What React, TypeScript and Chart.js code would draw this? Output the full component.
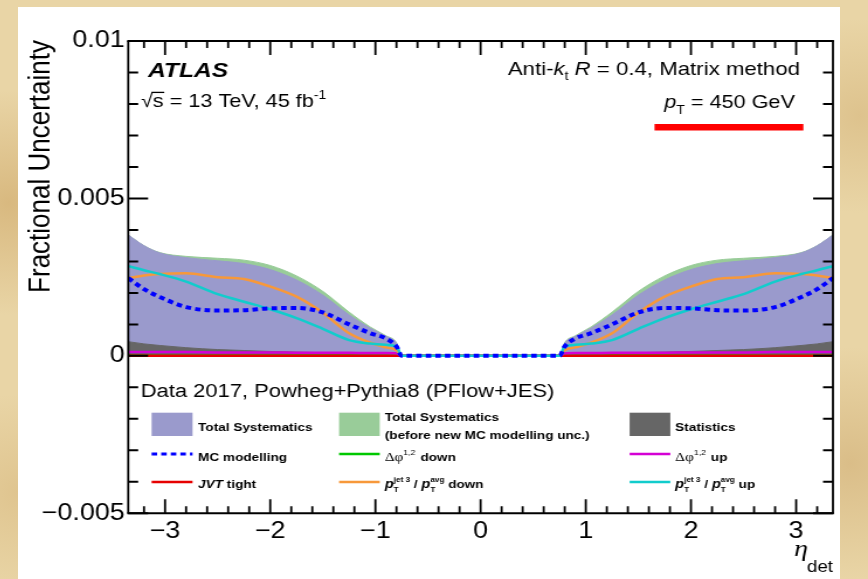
import React, { useEffect, useRef } from "react";
import { Chart, registerables } from "chart.js";

Chart.register(...registerables);

const FONT = "'Liberation Sans', Arial, Helvetica, sans-serif";
const SERIF = "'Liberation Serif', 'DejaVu Serif', serif";

// ---------------- data ----------------
const eta = [-3.35, -3.2, -3.05, -2.8, -2.5, -2.25, -2.0, -1.75, -1.5, -1.25, -1.05, -0.9, -0.8, -0.75, 0, 0.75, 0.8, 0.9, 1.05, 1.25, 1.5, 1.75, 2.0, 2.25, 2.5, 2.8, 3.05, 3.2, 3.35];

const totalSystBeforeMC = [0.00384, 0.0035, 0.00328, 0.00316, 0.0031, 0.00304, 0.00287, 0.00254, 0.00205, 0.00139, 0.00092, 0.00064, 0.00042, 0, 0, 0, 0.00042, 0.00064, 0.00092, 0.00139, 0.00205, 0.00254, 0.00287, 0.00304, 0.0031, 0.00316, 0.00328, 0.0035, 0.00384];
const totalSyst = [0.00384, 0.0035, 0.00327, 0.00312, 0.00302, 0.00293, 0.00274, 0.00241, 0.00193, 0.0013, 0.00088, 0.00062, 0.0004, 0, 0, 0, 0.0004, 0.00062, 0.00088, 0.0013, 0.00193, 0.00241, 0.00274, 0.00293, 0.00302, 0.00312, 0.00327, 0.0035, 0.00384];
const statistics = [0.00045, 0.00038, 0.00033, 0.00026, 0.0002, 0.00017, 0.00014, 0.00012, 0.0001, 0.00008, 0.00006, 0.00005, 0.00004, 0, 0, 0, 0.00004, 0.00005, 0.00006, 0.00008, 0.0001, 0.00012, 0.00014, 0.00017, 0.0002, 0.00026, 0.00033, 0.00038, 0.00045];
const mcModelling = [0.00247, 0.00212, 0.00187, 0.00155, 0.00144, 0.00145, 0.00151, 0.00152, 0.00138, 0.001, 0.00072, 0.00055, 0.0003, 0, 0, 0, 0.0003, 0.00055, 0.00072, 0.001, 0.00138, 0.00152, 0.00151, 0.00145, 0.00144, 0.00155, 0.00187, 0.00212, 0.00247];
const jvtTight = [0, 0, 0, 0, 0, 0, 0, 0, 0, 0, 0, 0, 0, 0, 0, 0, 0, 0, 0, 0, 0, 0, 0, 0, 0, 0, 0, 0, 0];
const dPhiDown = [0, 0, 0, 0, 0, 0, 0, 0, 0, 0, 0, 0, 0, 0, 0, 0, 0, 0, 0, 0, 0, 0, 0, 0, 0, 0, 0, 0, 0];
const dPhiUp = [0.00012, 0.00012, 0.00012, 0.00012, 0.00011, 0.00011, 0.00011, 0.0001, 0.0001, 0.0001, 0.00009, 0.00009, 0.00008, 0, 0, 0, 0.00008, 0.00009, 0.00009, 0.0001, 0.0001, 0.0001, 0.00011, 0.00011, 0.00011, 0.00012, 0.00012, 0.00012, 0.00012];
const ptRatioDown = [0.00247, 0.00255, 0.0026, 0.00262, 0.0025, 0.00244, 0.0022, 0.00188, 0.00137, 0.00072, 0.00042, 0.00027, 0.00018, 0, 0, 0, 0.00018, 0.00027, 0.00042, 0.00072, 0.00137, 0.00188, 0.0022, 0.00244, 0.0025, 0.00262, 0.0026, 0.00255, 0.00247];
const ptRatioUp = [0.00285, 0.00272, 0.0026, 0.00236, 0.00196, 0.00172, 0.00148, 0.0012, 0.00086, 0.0005, 0.00039, 0.00035, 0.0003, 0, 0, 0, 0.0003, 0.00035, 0.00039, 0.0005, 0.00086, 0.0012, 0.00148, 0.00172, 0.00196, 0.00236, 0.0026, 0.00272, 0.00285];

const xTickValues = [-3, -2, -1, 0, 1, 2, 3];
const xTickLabels = ["\u22123", "\u22122", "\u22121", "0", "1", "2", "3"];
const yTickValues = [-0.005, 0, 0.005, 0.01];
const yTickLabels = ["\u22120.005", "0", "0.005", "0.01"];

// ---------------- styles ----------------
const C_PURPLE = "#9a9acc";
const C_GREENFILL = "#99cc99";
const C_STAT = "#666666";
const C_BLUE = "#0000ff";
const C_RED = "#e60000";
const C_GREEN = "#00c800";
const C_ORANGE = "#f7983a";
const C_MAGENTA = "#d400d4";
const C_CYAN = "#11cccc";
const MC_DASH = [4.7, 3.5];

const CANVAS_W = 703;
const CANVAS_H = 572;
const DISPLAY_W = 822;

const pts = (vals: number[]) => eta.map((x, i) => ({ x, y: vals[i] }));

const fillDs = (label: string, vals: number[], color: string, order: number) => ({
  label,
  data: pts(vals),
  borderColor: color,
  backgroundColor: color,
  borderWidth: 1,
  fill: "origin",
  pointRadius: 0,
  cubicInterpolationMode: "monotone",
  order,
});

const lineDs = (label: string, vals: number[], color: string, order: number, width = 2.5, dash: number[] = []) => ({
  label,
  data: pts(vals),
  borderColor: color,
  backgroundColor: color,
  borderWidth: width,
  borderDash: dash,
  borderCapStyle: "butt",
  fill: false,
  pointRadius: 0,
  cubicInterpolationMode: "monotone",
  order,
});

type Seg = { t?: string; f?: string; dy?: number; gap?: number; stack?: Seg[] };

function drawRich(ctx: CanvasRenderingContext2D, x: number, y: number, segs: Seg[], align = "left") {
  const widthOf = (s: Seg): number => {
    if (s.stack) return Math.max(...s.stack.map(widthOf));
    ctx.font = s.f as string;
    return ctx.measureText(s.t as string).width + (s.gap || 0);
  };
  const total = segs.reduce((acc, s) => acc + widthOf(s), 0);
  let cx = align === "right" ? x - total : x;
  ctx.textAlign = "left";
  for (const s of segs) {
    const w = widthOf(s);
    const items = s.stack ? s.stack : [s];
    for (const q of items) {
      ctx.font = q.f as string;
      ctx.fillText(q.t as string, cx, y + (q.dy || 0));
    }
    cx += w;
  }
  return total;
}

const decorPlugin = {
  id: "atlasDecor",
  afterDraw(chart: any) {
    const ctx: CanvasRenderingContext2D = chart.ctx;
    const a = chart.chartArea;
    const xs = chart.scales.x;
    const ys = chart.scales.y;
    ctx.save();
    ctx.strokeStyle = "#000";
    ctx.fillStyle = "#000";

    // x ticks (bottom & top), inside the frame
    ctx.beginPath();
    for (let i = -16; i <= 16; i++) {
      const v = i * 0.2;
      const major = i % 5 === 0;
      const len = major ? 14 : 7;
      const px = xs.getPixelForValue(v);
      ctx.moveTo(px, a.bottom);
      ctx.lineTo(px, a.bottom - len);
      ctx.moveTo(px, a.top);
      ctx.lineTo(px, a.top + len);
    }
    ctx.lineWidth = 1.8;
    ctx.stroke();

    // y ticks (left & right)
    ctx.beginPath();
    for (let i = -5; i <= 10; i++) {
      const v = i * 0.001;
      const major = i % 5 === 0;
      const len = major ? 17 : 8.5;
      const py = ys.getPixelForValue(v);
      ctx.moveTo(a.left, py);
      ctx.lineTo(a.left + len, py);
      ctx.moveTo(a.right, py);
      ctx.lineTo(a.right - len, py);
    }
    ctx.lineWidth = 2;
    ctx.stroke();

    // frame
    ctx.lineWidth = 2;
    ctx.beginPath();
    ctx.moveTo(a.left - 0.9, a.top);
    ctx.lineTo(a.right + 0.9, a.top);
    ctx.moveTo(a.left - 0.9, a.bottom);
    ctx.lineTo(a.right + 0.9, a.bottom);
    ctx.stroke();
    ctx.lineWidth = 1.8;
    ctx.beginPath();
    ctx.moveTo(a.left, a.top);
    ctx.lineTo(a.left, a.bottom);
    ctx.moveTo(a.right, a.top);
    ctx.lineTo(a.right, a.bottom);
    ctx.stroke();

    ctx.textBaseline = "alphabetic";

    // ATLAS label
    ctx.textAlign = "left";
    ctx.font = `italic bold 21px ${FONT}`;
    ctx.fillText("ATLAS", 111.2, 70.3);

    // sqrt(s) line
    const f185 = `18.5px ${FONT}`;
    ctx.font = f185;
    const wRad = ctx.measureText("\u221A").width;
    const wS = ctx.measureText("s").width;
    drawRich(ctx, 105.2, 100, [
      { t: "\u221As = 13 TeV, 45 fb", f: f185 },
      { t: "-1", f: `12px ${FONT}`, dy: -8 },
    ]);
    ctx.lineWidth = 1.3;
    ctx.beginPath();
    ctx.moveTo(105.2 + wRad - 1.2, 100 - 14.6);
    ctx.lineTo(105.2 + wRad + wS + 0.5, 100 - 14.6);
    ctx.stroke();

    // Anti-kt line
    const f19 = `19px ${FONT}`;
    const fi19 = `italic 19px ${FONT}`;
    drawRich(
      ctx,
      668.8,
      68,
      [
        { t: "Anti-", f: f19 },
        { t: "k", f: fi19 },
        { t: "t", f: `12px ${FONT}`, dy: 5 },
        { t: " ", f: f19 },
        { t: "R", f: fi19 },
        { t: " = 0.4, Matrix method", f: f19 },
      ],
      "right"
    );

    // pT = 450 GeV
    drawRich(
      ctx,
      664.5,
      101.3,
      [
        { t: "p", f: `italic 18.5px ${FONT}` },
        { t: "T", f: `12px ${FONT}`, dy: 6 },
        { t: " = 450 GeV", f: f185 },
      ],
      "right"
    );

    // red underline
    ctx.fillStyle = "#ff0000";
    ctx.fillRect(544.4, 117, 127.3, 6.5);
    ctx.fillStyle = "#000";

    // y title
    ctx.save();
    ctx.translate(27.4, 33);
    ctx.rotate(-Math.PI / 2);
    ctx.textAlign = "right";
    ctx.font = `26px ${FONT}`;
    ctx.fillText("Fractional Uncertainty", 0, 0);
    ctx.restore();

    // x title
    ctx.textAlign = "left";
    ctx.font = `italic 24px ${SERIF}`;
    ctx.fillText("\u03B7", 663.7, 549);
    ctx.textAlign = "right";
    ctx.font = `16px ${FONT}`;
    ctx.fillText("det", 697, 565.3);
    ctx.textAlign = "left";

    // legend header
    ctx.font = `18.8px ${FONT}`;
    ctx.fillText("Data 2017, Powheg+Pythia8 (PFlow+JES)", 104.9, 389.7);

    // legend swatches
    const sw = [
      [114.3, 149.3],
      [274.6, 309.4],
      [523.1, 557.9],
    ];
    const tx = [154.1, 313.7, 562.1];
    ctx.fillStyle = C_PURPLE;
    ctx.fillRect(sw[0][0], 405.7, sw[0][1] - sw[0][0], 23.3);
    ctx.fillStyle = C_GREENFILL;
    ctx.fillRect(sw[1][0], 405.7, sw[1][1] - sw[1][0], 23.3);
    ctx.fillStyle = C_STAT;
    ctx.fillRect(sw[2][0], 405.7, sw[2][1] - sw[2][0], 23.3);

    const swLine = (col: number, yy: number, color: string, width: number, dash: number[] = []) => {
      ctx.save();
      ctx.strokeStyle = color;
      ctx.lineWidth = width;
      ctx.setLineDash(dash);
      ctx.beginPath();
      ctx.moveTo(sw[col][0], yy);
      ctx.lineTo(sw[col][1], yy);
      ctx.stroke();
      ctx.restore();
    };
    swLine(0, 447, C_BLUE, 3, MC_DASH);
    swLine(1, 447, C_GREEN, 2.5);
    swLine(2, 447, C_MAGENTA, 2.5);
    swLine(0, 475, C_RED, 2.5);
    swLine(1, 475, C_ORANGE, 2.5);
    swLine(2, 475, C_CYAN, 2.5);

    ctx.fillStyle = "#000";
    const LB = `bold 11.6px ${FONT}`;
    const LBI = `italic bold 11.6px ${FONT}`;
    ctx.font = LB;
    ctx.fillText("Total Systematics", tx[0], 423.7);
    ctx.fillText("Total Systematics", tx[1], 413.7);
    ctx.fillText("(before new MC modelling unc.)", tx[1], 432.3);
    ctx.fillText("Statistics", tx[2], 423.7);
    ctx.fillText("MC modelling", tx[0], 453.7);
    drawRich(ctx, tx[0], 480.7, [
      { t: "JVT", f: LBI },
      { t: " tight", f: LB },
    ]);
    const dphi = (suffix: string): Seg[] => [
      { t: "\u0394\u03C6", f: `13px ${SERIF}` },
      { t: "1,2", f: `7.5px ${FONT}`, dy: -6, gap: 1 },
      { t: suffix, f: LB },
    ];
    drawRich(ctx, tx[1], 453.7, dphi(" down"));
    drawRich(ctx, tx[2], 453.7, dphi(" up"));
    const pI = `bold italic 12.5px ${FONT}`;
    const sm = `bold 7px ${FONT}`;
    const ratio = (suffix: string): Seg[] => [
      { t: "p", f: pI },
      { stack: [{ t: "jet 3", f: sm, dy: -6 }, { t: "T", f: sm, dy: 4 }] },
      { t: " / ", f: LB },
      { t: "p", f: pI },
      { stack: [{ t: "avg", f: sm, dy: -6 }, { t: "T", f: sm, dy: 4 }] },
      { t: suffix, f: LB },
    ];
    drawRich(ctx, tx[1], 480.7, ratio(" down"));
    drawRich(ctx, tx[2], 480.7, ratio(" up"));

    ctx.restore();
  },
};

export default function App() {
  const ref = useRef<HTMLCanvasElement | null>(null);

  useEffect(() => {
    if (!ref.current) return;
    Chart.defaults.font.family = FONT;
    const chart = new Chart(ref.current, {
      type: "line",
      data: {
        datasets: [
          fillDs("Total Systematics (before new MC modelling unc.)", totalSystBeforeMC, C_GREENFILL, 10),
          fillDs("Total Systematics", totalSyst, C_PURPLE, 9),
          fillDs("Statistics", statistics, C_STAT, 8),
          lineDs("\u0394\u03C6 1,2 down", dPhiDown, C_GREEN, 7),
          lineDs("JVT tight", jvtTight, C_RED, 6),
          lineDs("\u0394\u03C6 1,2 up", dPhiUp, C_MAGENTA, 5),
          lineDs("pT jet3 / pT avg down", ptRatioDown, C_ORANGE, 4),
          lineDs("pT jet3 / pT avg up", ptRatioUp, C_CYAN, 3),
          lineDs("MC modelling", mcModelling, C_BLUE, 1, 4, MC_DASH),
        ] as any,
      },
      options: {
        animation: false,
        responsive: false,
        devicePixelRatio: 1,
        events: [],
        layout: { padding: { left: 0, top: 34, right: 6, bottom: 0 } },
        plugins: { legend: { display: false }, tooltip: { enabled: false }, title: { display: false } },
        scales: {
          x: {
            type: "linear",
            min: -3.35,
            max: 3.35,
            afterBuildTicks: (s: any) => {
              s.ticks = xTickValues.map((v) => ({ value: v }));
            },
            afterFit: (s: any) => {
              s.height = 65.7;
            },
            grid: { display: false, drawTicks: false },
            border: { display: false },
            ticks: {
              autoSkip: false,
              maxRotation: 0,
              padding: 5,
              color: "#000",
              font: { size: 23, family: FONT },
              callback: (_v: any, i: number) => xTickLabels[i],
            },
          },
          y: {
            type: "linear",
            min: -0.005,
            max: 0.01,
            afterBuildTicks: (s: any) => {
              s.ticks = yTickValues.map((v) => ({ value: v }));
            },
            afterFit: (s: any) => {
              s.width = 94.3;
            },
            grid: { display: false, drawTicks: false },
            border: { display: false },
            ticks: {
              autoSkip: false,
              padding: 3,
              color: "#000",
              font: { size: 23, family: FONT },
              callback: (_v: any, i: number) => yTickLabels[i],
            },
          },
        },
      } as any,
      plugins: [decorPlugin as any],
    });
    return () => chart.destroy();
  }, []);

  return (
    <div
      style={{
        position: "fixed",
        inset: 0,
        backgroundColor: "#e9d5a6",
        backgroundImage:
          "radial-gradient(circle at 1% 35%, rgba(196,150,80,0.45), rgba(196,150,80,0) 12%), radial-gradient(circle at 99% 20%, rgba(200,160,95,0.35), rgba(200,160,95,0) 10%), radial-gradient(circle at 98% 80%, rgba(190,145,80,0.35), rgba(190,145,80,0) 12%), radial-gradient(circle at 2% 85%, rgba(205,165,100,0.35), rgba(205,165,100,0) 10%)",
        overflow: "hidden",
      }}
    >
      <canvas
        ref={ref}
        width={CANVAS_W}
        height={CANVAS_H}
        style={{ position: "absolute", left: 18, top: 7, width: DISPLAY_W, height: CANVAS_H, background: "#ffffff" }}
      />
    </div>
  );
}
